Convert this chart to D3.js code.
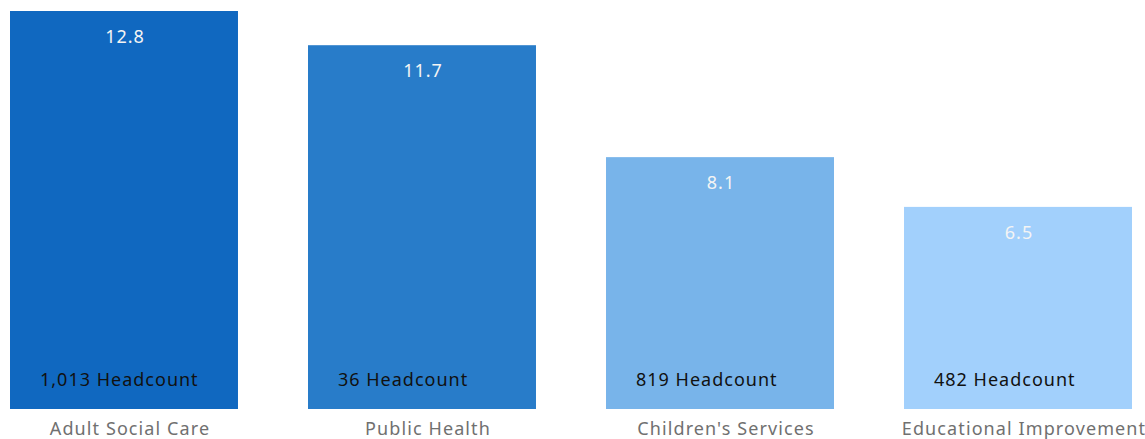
<!DOCTYPE html>
<html>
<head>
<meta charset="utf-8">
<script src="https://cdn.jsdelivr.net/npm/d3@7"></script>
<style>
  body { margin: 0; background: #fff; }
  svg { display: block; font-family: "Noto Sans", "Open Sans", sans-serif; }
</style>
</head>
<body>
<svg id="chart"></svg>
<script>
const WIDTH = 1145;
const HEIGHT = 439;

const categories = ["Adult Social Care", "Public Health", "Children's Services", "Educational Improvement"];
const values = [12.8, 11.7, 8.1, 6.5];
const headcounts = [1013, 36, 819, 482];
const colours = ["#1068c0", "#287cc9", "#78b4ea", "#a2d0fc"];

const data = categories.map((c, i) => ({ cat: c, value: values[i], head: headcounts[i], colour: colours[i] }));

const svg = d3.select("#chart").attr("width", WIDTH).attr("height", HEIGHT);

const x = d3.scaleBand()
  .domain(categories)
  .range([10, 1132])
  .paddingInner(0.235)
  .paddingOuter(0);

const y = d3.scaleLinear()
  .domain([0, 12.8])
  .range([409, 11]);

const bar = svg.selectAll(".bar")
  .data(data)
  .join("g")
  .classed("bar", true);

bar.append("rect")
  .attr("x", d => x(d.cat))
  .attr("y", d => y(d.value))
  .attr("width", x.bandwidth())
  .attr("height", d => y(0) - y(d.value))
  .attr("fill", d => d.colour);

bar.append("text")
  .attr("x", d => x(d.cat) + x.bandwidth() / 2 + 1)
  .attr("y", d => y(d.value) + 32)
  .attr("text-anchor", "middle")
  .attr("fill", "#f4f4f4")
  .attr("font-size", 18)
  .attr("letter-spacing", 1)
  .text(d => d.value.toFixed(1));

bar.append("text")
  .attr("x", d => x(d.cat) + 30)
  .attr("y", 386)
  .attr("fill", "#111")
  .attr("font-size", 18)
  .attr("letter-spacing", 1)
  .text(d => d3.format(",")(d.head) + " Headcount");

bar.append("text")
  .attr("x", d => x(d.cat) + x.bandwidth() / 2 + 6)
  .attr("y", 435)
  .attr("text-anchor", "middle")
  .attr("fill", "#707070")
  .attr("font-size", 18)
  .attr("letter-spacing", 1.1)
  .text(d => d.cat);
</script>
</body>
</html>
